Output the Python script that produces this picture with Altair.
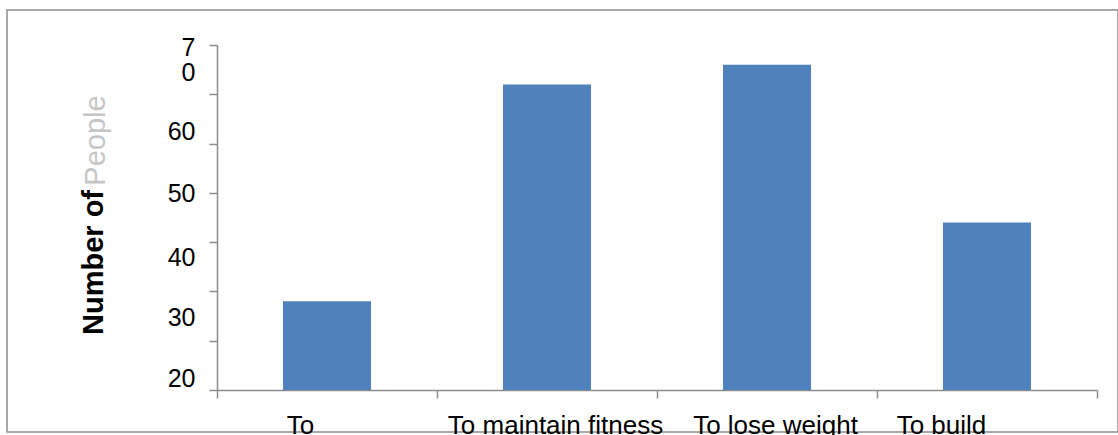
import altair as alt
import pandas as pd

# ---- data ----
categories = ["To", "To maintain fitness", "To lose weight", "To build"]
values = [18, 62, 66, 34]
y_tick_values = [0, 10, 20, 30, 40, 50, 60, 70]
y_tick_labels = ["20", "", "30", "40", "50", "60", "0", "7"]
y_title_main = "Number of"
y_title_extra = "People"

df = pd.DataFrame({"category": categories, "value": values})

# ---- style ----
FONT = "Liberation Sans"
GRAY = "#8c8c8c"
BAR = "#4F81BD"

y_label_shift = {70: 2, 60: -22, 50: -12, 40: 1, 30: 15, 20: 26, 10: 0, 0: -12}
x_label_shift = {"To": -27, "To maintain fitness": 8, "To lose weight": 8, "To build": -46}

label_expr = " : ".join(
    f"datum.value == {v} ? '{t}'" for v, t in zip(y_tick_values, y_tick_labels)
) + " : ''"

y_offset_cond = {
    "condition": [{"test": f"datum.value == {v}", "value": s} for v, s in y_label_shift.items() if s != 0],
    "value": 0,
}
x_offset_cond = {
    "condition": [{"test": f"datum.value == '{c}'", "value": s} for c, s in x_label_shift.items()],
    "value": 0,
}

x_enc = alt.X(
    "category:N",
    sort=None,
    scale=alt.Scale(range=[210, 1090], paddingInner=0, paddingOuter=0),
    axis=alt.Axis(
        title=None, orient="bottom", offset=-42,
        domainColor=GRAY, domainWidth=1.5, tickColor=GRAY, tickWidth=1.5, tickSize=8,
        tickBand="extent", labelAngle=0, labelFont=FONT, labelFontSize=26,
        labelColor="black", labelPadding=14, labelBaseline="top", labelLimit=0,
        labelOffset=x_offset_cond, grid=False,
    ),
)

y_scale = alt.Scale(domain=[0, 70], range=[380, 35], nice=False, zero=True)

bars = alt.Chart(df).mark_bar(color=BAR, width=alt.RelativeBandSize(0.4)).encode(
    x=x_enc,
    y=alt.Y(
        "value:Q",
        scale=y_scale,
        axis=alt.Axis(
            orient="left", offset=-210, values=y_tick_values, labelExpr=label_expr,
            domainColor=GRAY, domainWidth=1.5, tickColor=GRAY, tickWidth=1.5, tickSize=8,
            labelFont=FONT, labelFontSize=25, labelColor="black", labelPadding=14,
            labelOffset=y_offset_cond, grid=False,
            title=y_title_main, titleFont=FONT, titleFontSize=29, titleFontWeight="bold",
            titleColor="black", titleAngle=270, titleAlign="center",
            titleBaseline="alphabetic", titleX=-115, titleY=252,
        ),
    ),
)

ghost = alt.Chart(df).mark_bar(opacity=0, width=alt.RelativeBandSize(0.4)).encode(
    x=x_enc,
    y=alt.Y(
        "value:Q",
        scale=y_scale,
        axis=alt.Axis(
            orient="left", offset=-210, labels=False, ticks=False, domain=False, grid=False,
            title=y_title_extra, titleFont=FONT, titleFontSize=29, titleFontWeight="normal",
            titleColor="#c6c6c6", titleAngle=270, titleAlign="center",
            titleBaseline="alphabetic", titleX=-113, titleY=130,
        ),
    ),
)

chart = (
    alt.layer(bars, ghost)
    .resolve_axis(y="independent")
    .properties(
        width=1111,
        height=422,
        autosize=alt.AutoSizeParams(type="none"),
        padding={"left": 7, "top": 10, "right": 0, "bottom": 3},
        background="white",
    )
    .configure_view(stroke=GRAY, strokeWidth=1.5)
)

chart.save("out.html", embed_options={"renderer": "svg", "actions": False})
